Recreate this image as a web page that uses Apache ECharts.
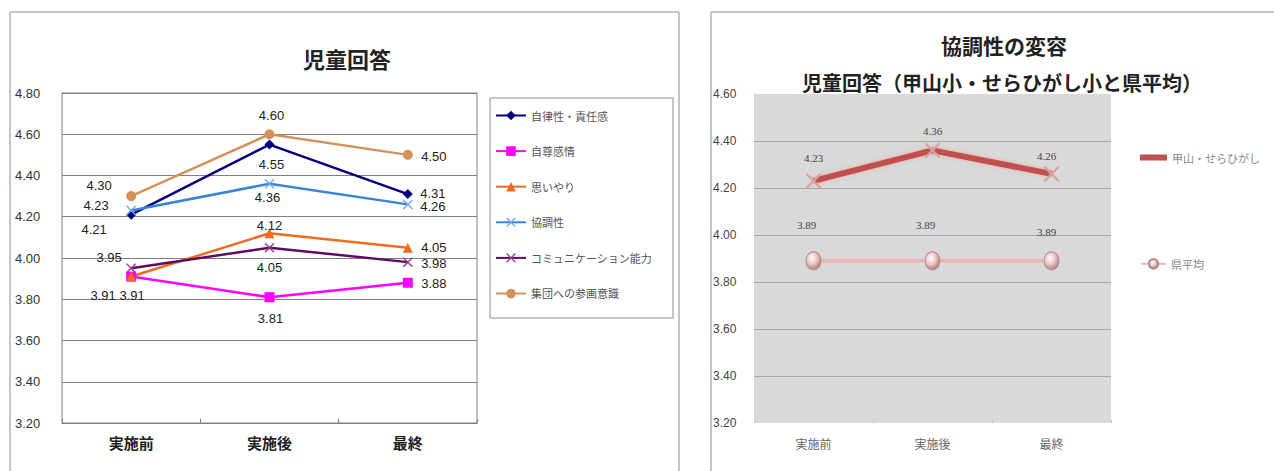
<!DOCTYPE html>
<html>
<head>
<meta charset="utf-8">
<script src="https://cdn.jsdelivr.net/npm/echarts@6/dist/echarts.min.js"></script>
<style>
  html, body { margin: 0; padding: 0; background: #fff; }
  #main { width: 1274px; height: 471px; }
</style>
</head>
<body>
<div id="main"></div>
<script>
// data
const categories = ['実施前', '実施後', '最終'];

const jiritsu = [4.21, 4.55, 4.31];   // 自律性・責任感
const jison = [3.91, 3.81, 3.88];     // 自尊感情
const omoiyari = [3.91, 4.12, 4.05];  // 思いやり
const kyouchou = [4.23, 4.36, 4.26];  // 協調性
const komyu = [3.95, 4.05, 3.98];     // コミュニケーション能力
const shuudan = [4.30, 4.60, 4.50];   // 集団への参画意識

const kouzanSera = [4.23, 4.36, 4.26]; // 甲山・せらひがし
const kenHeikin = [3.89, 3.89, 3.89];  // 県平均

const leftAxisRange = [3.2, 4.8];
const rightAxisRange = [3.2, 4.6];

const FONT = '"Liberation Sans", "Noto Sans CJK JP", sans-serif';
const JP = '"Noto Sans CJK JP", sans-serif';

// label offsets (px from the marker) so labels sit where the original puts them
const labelOffsets = {
  jiritsu: [[-37, 15], [2, 20], [25, -1]],
  jison: [[-28, 19], [1, 21], [26, 1]],
  omoiyari: [[1, 19], [0, -8], [26, 0]],
  kyouchou: [[-35, -5], [-2, 14], [25, 2]],
  komyu: [[-22, -11], [0, 20], [26, 1]],
  shuudan: [[-32, -11], [2, -19], [26, 2]],
  kouzanSera: [[0, -23], [0, -19], [-5, -18]],
  kenHeikin: [[-7, -36], [-7, -36], [-5, -29]],
};

const xPath = 'path://M0,1L1,0L5,4L9,0L10,1L6,5L10,9L9,10L5,6L1,10L0,9L4,5Z';

const withOffsets = (values, offs) =>
  values.map((v, i) => ({ value: v, label: { offset: offs[i] } }));

const leftLabel = {
  show: true,
  position: 'inside',
  color: '#222',
  fontSize: 13,
  fontFamily: FONT,
  formatter: (p) => p.value.toFixed(2),
};

const leftSeries = (name, values, offs, color, symbol, symbolColor) => ({
  name,
  type: 'line',
  xAxisIndex: 0,
  yAxisIndex: 0,
  data: withOffsets(values, offs),
  symbol,
  symbolSize: 10,
  lineStyle: { color, width: 2.5 },
  itemStyle: { color: symbolColor || color },
  label: leftLabel,
  animation: false,
});

const sphere = {
  type: 'radial',
  x: 0.4, y: 0.35, r: 0.7,
  colorStops: [
    { offset: 0, color: '#ffffff' },
    { offset: 0.5, color: '#e8c4c4' },
    { offset: 1, color: '#a87070' },
  ],
};

const rightLegendText = { color: '#888', fontSize: 11, fontFamily: JP };

const chart = echarts.init(document.getElementById('main'), null, { renderer: 'svg' });

chart.setOption({
  backgroundColor: '#fff',
  animation: false,
  graphic: [
    { type: 'rect', shape: { x: 10, y: 12, width: 669, height: 520 }, style: { fill: 'none', stroke: '#8c8c8c', lineWidth: 1 } },
    { type: 'rect', shape: { x: 711, y: 12, width: 620, height: 520 }, style: { fill: 'none', stroke: '#8c8c8c', lineWidth: 1 } },
    { type: 'rect', shape: { x: 490, y: 98, width: 183, height: 220 }, style: { fill: 'none', stroke: '#8c8c8c', lineWidth: 1 } },
    { type: 'text', x: 347, y: 58, style: { text: '児童回答', font: 'bold 22px ' + JP, fill: '#222', textAlign: 'center', textVerticalAlign: 'middle' } },
    { type: 'text', x: 1004, y: 45, style: { text: '協調性の変容', font: 'bold 21px ' + JP, fill: '#222', textAlign: 'center', textVerticalAlign: 'middle' } },
    { type: 'text', x: 1002, y: 82, style: { text: '児童回答（甲山小・せらひがし小と県平均）', font: 'bold 20px ' + JP, fill: '#222', textAlign: 'center', textVerticalAlign: 'middle' } },
  ],
  legend: [
    {
      orient: 'vertical',
      left: 495,
      top: 110,
      padding: 0,
      itemWidth: 30,
      itemHeight: 12,
      itemGap: 24.6,
      textStyle: { color: '#555', fontSize: 11, fontFamily: JP },
      data: ['自律性・責任感', '自尊感情', '思いやり', '協調性', 'コミュニケーション能力', '集団への参画意識'],
    },
    {
      left: 1140,
      top: 152,
      padding: 0,
      itemWidth: 27,
      itemHeight: 6,
      itemGap: 4,
      textStyle: rightLegendText,
      data: [{ name: '甲山・せらひがし', icon: 'rect', itemStyle: { color: '#c0504d' } }],
    },
    {
      left: 1140,
      top: 258,
      padding: 0,
      itemWidth: 25,
      itemHeight: 12,
      textStyle: rightLegendText,
      data: ['県平均'],
    },
  ],
  grid: [
    { left: 62, top: 93, width: 415, height: 330, show: true, borderColor: '#808080', borderWidth: 1, backgroundColor: '#fff' },
    { left: 754, top: 94, width: 357, height: 329, show: true, borderWidth: 0, backgroundColor: '#d9d9d9' },
  ],
  xAxis: [
    {
      type: 'category',
      gridIndex: 0,
      data: categories,
      boundaryGap: true,
      axisLine: { lineStyle: { color: '#808080' } },
      axisTick: { show: true, inside: true, length: 4, lineStyle: { color: '#808080' } },
      axisLabel: { margin: 12, color: '#222', fontSize: 15, fontWeight: 'bold', fontFamily: JP },
    },
    {
      type: 'category',
      gridIndex: 1,
      data: categories,
      boundaryGap: true,
      axisLine: { show: false },
      axisTick: { show: true, inside: true, length: 3, lineStyle: { color: '#c4c4c4' } },
      axisLabel: { margin: 14, color: '#666', fontSize: 12, fontFamily: JP },
    },
  ],
  yAxis: [
    {
      type: 'value',
      gridIndex: 0,
      min: leftAxisRange[0],
      max: leftAxisRange[1],
      interval: 0.2,
      axisLine: { show: false },
      axisTick: { show: false },
      axisLabel: { align: 'left', margin: 47, color: '#333', fontSize: 13, fontFamily: FONT, formatter: (v) => v.toFixed(2) },
      splitLine: { lineStyle: { color: '#808080', width: 1 } },
    },
    {
      type: 'value',
      gridIndex: 1,
      min: rightAxisRange[0],
      max: rightAxisRange[1],
      interval: 0.2,
      axisLine: { show: false },
      axisTick: { show: false },
      axisLabel: { align: 'left', margin: 41, color: '#444', fontSize: 12, fontFamily: FONT, formatter: (v) => v.toFixed(2) },
      splitLine: { showMinLine: false, showMaxLine: false, lineStyle: { color: '#a6a6a6', width: 1 } },
    },
  ],
  series: [
    leftSeries('自律性・責任感', jiritsu, labelOffsets.jiritsu, '#000080', 'diamond'),
    leftSeries('自尊感情', jison, labelOffsets.jison, '#ff00ff', 'rect'),
    leftSeries('思いやり', omoiyari, labelOffsets.omoiyari, '#f26c1f', 'triangle'),
    leftSeries('協調性', kyouchou, labelOffsets.kyouchou, '#3a84d6', xPath, '#6eaaf0'),
    leftSeries('コミュニケーション能力', komyu, labelOffsets.komyu, '#5e0d5e', xPath, '#9a3a9a'),
    leftSeries('集団への参画意識', shuudan, labelOffsets.shuudan, '#d6915a', 'circle'),
    {
      name: '甲山・せらひがし',
      type: 'line',
      xAxisIndex: 1,
      yAxisIndex: 1,
      data: withOffsets(kouzanSera, labelOffsets.kouzanSera),
      symbol: xPath,
      symbolSize: 16,
      lineStyle: { color: '#c0504d', width: 6, shadowColor: 'rgba(235,160,160,0.8)', shadowBlur: 4 },
      itemStyle: { color: '#d7a3a2' },
      label: { show: true, position: 'inside', color: '#444', fontSize: 11, fontFamily: '"Liberation Serif", serif', formatter: (p) => p.value.toFixed(2) },
    },
    {
      name: '県平均',
      type: 'line',
      xAxisIndex: 1,
      yAxisIndex: 1,
      data: withOffsets(kenHeikin, labelOffsets.kenHeikin),
      symbol: 'circle',
      symbolSize: [15, 18],
      lineStyle: { color: '#eab8b7', width: 4 },
      itemStyle: { color: sphere, borderColor: '#b88a8a', borderWidth: 1 },
      label: { show: true, position: 'inside', color: '#444', fontSize: 11, fontFamily: '"Liberation Serif", serif', formatter: (p) => p.value.toFixed(2) },
    },
  ],
});

window.addEventListener('resize', () => chart.resize());
</script>
</body>
</html>
